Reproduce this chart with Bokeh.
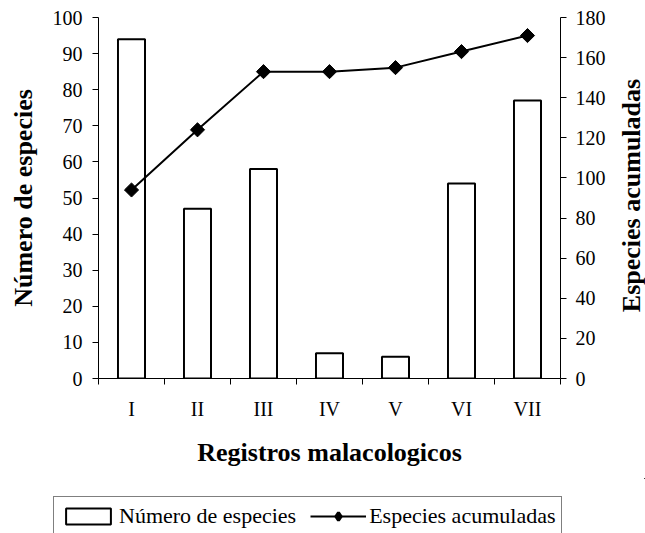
import math
from bokeh.plotting import figure
from bokeh.layouts import row, column
from bokeh.models import (Range1d, LinearAxis, FixedTicker, Legend, LegendItem,
                          ColumnDataSource, Label)
from bokeh.embed import file_html
from bokeh.resources import INLINE

# ---- data ----
registros = ["I", "II", "III", "IV", "V", "VI", "VII"]
numero_especies = [94, 47, 58, 7, 6, 54, 77]
especies_acumuladas = [94, 124, 153, 153, 155, 163, 171]
left_ticks = [0, 10, 20, 30, 40, 50, 60, 70, 80, 90, 100]
right_ticks = [0, 20, 40, 60, 80, 100, 120, 140, 160, 180]

FONT = "Liberation Serif"
TICK_SIZE = "20px"
TITLE_SIZE = "26px"
n = len(registros)
xs = list(range(1, n + 1))
src = ColumnDataSource(dict(x=xs, num=numero_especies, acc=especies_acumuladas))


def clean(fig):
    fig.outline_line_color = None
    fig.xgrid.visible = False
    fig.ygrid.visible = False
    fig.background_fill_color = "white"
    fig.border_fill_color = "white"


# ---- main chart ----
p = figure(width=615, height=478, output_backend="svg", toolbar_location=None,
           x_range=Range1d(0.5, n + 0.5), y_range=Range1d(0, 100),
           min_border_left=98, min_border_right=55, min_border_top=17,
           min_border_bottom=100)
clean(p)
p.extra_y_ranges = {"acc": Range1d(0, 180)}

xa = p.xaxis[0]
xa.ticker = FixedTicker(ticks=xs, minor_ticks=[i + 0.5 for i in range(0, n + 1)])
xa.major_label_overrides = {i: r for i, r in zip(xs, registros)}
xa.major_tick_out = 0
xa.major_tick_in = 0
xa.minor_tick_out = 6
xa.minor_tick_in = 0
xa.major_label_standoff = 13
xa.axis_label = "Registros malacologicos"
xa.axis_label_standoff = 15

ya = p.yaxis[0]
ya.ticker = FixedTicker(ticks=left_ticks)
ya.major_tick_out = 6
ya.major_tick_in = 0
ya.major_label_standoff = 10
ya.axis_label = "Número de especies"
ya.axis_label_standoff = 12

ra = LinearAxis(y_range_name="acc", ticker=FixedTicker(ticks=right_ticks))
ra.major_tick_out = 6
ra.major_tick_in = 0
ra.major_label_standoff = 9
p.add_layout(ra, "right")

for ax in (xa, ya, ra):
    ax.axis_line_color = "black"
    ax.axis_line_width = 1
    ax.major_tick_line_color = "black"
    ax.minor_tick_line_color = "black" if ax is xa else None
    ax.major_label_text_font = FONT
    ax.major_label_text_font_size = TICK_SIZE
    ax.major_label_text_color = "black"
    ax.axis_label_text_font = FONT
    ax.axis_label_text_font_size = TITLE_SIZE
    ax.axis_label_text_font_style = "bold"
    ax.axis_label_text_color = "black"

BAR_STYLE = dict(fill_color="white", line_color="black", line_width=2)
LINE_STYLE = dict(line_color="black", line_width=2)

p.vbar(x="x", top="num", width=0.41, source=src, **BAR_STYLE)
p.line(x="x", y="acc", source=src, y_range_name="acc", **LINE_STYLE)
p.scatter(x="x", y="acc", source=src, y_range_name="acc", marker="square",
          angle=math.pi / 4, size=10, fill_color="black", line_color="black")

# ---- right-hand axis title (reads bottom to top) ----
side = figure(width=30, height=478, output_backend="svg", toolbar_location=None,
              x_range=Range1d(615, 645), y_range=Range1d(378, 17),
              x_axis_type=None, y_axis_type=None, min_border=0)
clean(side)
side.add_layout(Label(x=631, y=195, text="Especies acumuladas", angle=math.pi / 2,
                      text_align="center", text_baseline="middle",
                      text_font=FONT, text_font_size=TITLE_SIZE,
                      text_font_style="bold", text_color="black"))

# ---- legend strip (its renderers sit outside the visible range) ----
leg = figure(width=645, height=55, output_backend="svg", toolbar_location=None,
             x_range=Range1d(-20, -19), y_range=Range1d(-20, -19),
             x_axis_type=None, y_axis_type=None, min_border=0)
clean(leg)
lb = leg.vbar(x="x", top="num", width=0.41, source=src, **BAR_STYLE)
ll = leg.line(x="x", y="acc", source=src, **LINE_STYLE)
lm = leg.scatter(x="x", y="acc", source=src, marker="diamond",
                 fill_color="black", line_color="black", line_width=3)
legend = Legend(items=[LegendItem(label="Número de especies", renderers=[lb]),
                       LegendItem(label="Especies acumuladas", renderers=[ll, lm])],
                orientation="horizontal", location=(53, -3))
legend.label_text_font = FONT
legend.label_text_font_size = "22px"
legend.label_text_color = "black"
legend.glyph_width = 56
legend.glyph_height = 20
legend.padding = 6
legend.spacing = 14
legend.label_standoff = 3
legend.margin = 0
legend.border_line_color = "black"
legend.border_line_width = 1
legend.background_fill_color = "white"
legend.background_fill_alpha = 1
leg.add_layout(legend, "center")

layout = column(row(p, side, spacing=0), leg, spacing=0)
open("out.html", "w").write(file_html(layout, INLINE))
